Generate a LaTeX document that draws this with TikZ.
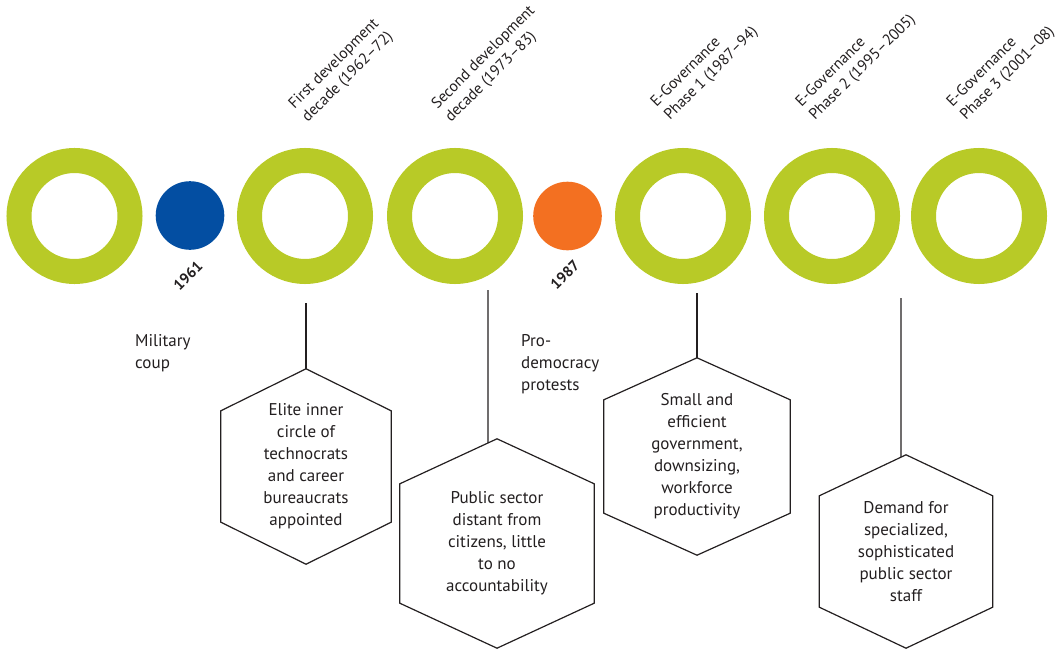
\documentclass[tikz,border=0pt]{standalone}
\usepackage{fontspec}
\setmainfont{PT Sans}
\usetikzlibrary{calc}
\definecolor{ringgreen}{HTML}{B8CA27}
\definecolor{dotblue}{HTML}{034EA2}
\definecolor{dotorange}{HTML}{F37021}
\definecolor{ink}{HTML}{231F20}
\tikzset{
  ring/.style={circle, draw=ringgreen, line width=25pt, minimum size=111pt, inner sep=0pt},
  dot/.style={circle, minimum size=68.6pt, inner sep=0pt},
  hexbox/.style={inner sep=0pt, align=center, text=ink, font=\fontsize{17}{22}\selectfont},
  hexline/.style={draw=ink, line width=1.2pt, line join=miter},
  stem/.style={draw=ink, line width=1.2pt},
  phase/.style={rotate=45, anchor=north west, inner sep=0pt, align=left, text=ink, font=\fontsize{15.5}{19}\selectfont},
  yearlbl/.style={rotate=45, inner sep=0pt, text=ink, font=\fontsize{15}{18}\selectfont\bfseries},
  eventlbl/.style={anchor=north west, inner sep=0pt, align=left, text=ink, font=\fontsize{17}{22}\selectfont}
}
\newcommand\hexoutline[2]{%
  \draw[hexline] (#1.north) -- ([yshift=-#2pt]#1.north east) -- ([yshift=#2pt]#1.south east) -- (#1.south) -- ([yshift=#2pt]#1.south west) -- ([yshift=-#2pt]#1.north west) -- cycle;}
\begin{document}
\begin{tikzpicture}[x=1pt,y=-1pt]
\useasboundingbox (0,0) rectangle (1063,650);
% rings and dots
\node[ring] (r1) at (74.5,216) {};
\node[dot, fill=dotblue] (d1) at (190,215.5) {};
\node[ring] (r2) at (305,216) {};
\node[ring] (r3) at (455,216) {};
\node[dot, fill=dotorange] (d2) at (567.5,216) {};
\node[ring] (r4) at (683,216) {};
\node[ring] (r5) at (832,216) {};
\node[ring] (r6) at (979,216) {};
% phase labels
\node[phase] (p1) at (286.5,101.5) {First development\\decade (1962--72)};
\node[phase] (p2) at (429.5,101.5) {Second development\\decade (1973--83)};
\node[phase] (p3) at (648.5,99.5) {E-Governance\\Phase 1 (1987--94)};
\node[phase] (p4) at (793.5,99.5) {E-Governance\\Phase 2 (1995--2005)};
\node[phase] (p5) at (944.5,99.5) {E-Governance\\Phase 3 (2001--08)};
% years
\node[yearlbl] (y1) at (188,276) {1961};
\node[yearlbl] (y2) at (565,275) {1987};
% events
\node[eventlbl] (e1) at (135,334) {Military\\coup};
\node[eventlbl] (e2) at (521,334) {Pro-\\democracy\\protests};
% hexagons
\node[hexbox, minimum width=170pt, minimum height=195pt] (h1) at (306,466.5) {Elite inner\\circle of\\technocrats\\and career\\bureaucrats\\appointed};
\hexoutline{h1}{42}
\node[hexbox, minimum width=194pt, minimum height=209pt] (h2) at (497,543.5) {Public sector\\distant from\\citizens, little\\to no\\accountability};
\hexoutline{h2}{45}
\node[hexbox, minimum width=186pt, minimum height=197pt] (h3) at (697,456.5) {Small and\\efficient\\government,\\downsizing,\\workforce\\productivity};
\hexoutline{h3}{42}
\node[hexbox, minimum width=173pt, minimum height=193pt] (h4) at (906,551.5) {Demand for\\specialized,\\sophisticated\\public sector\\staff};
\hexoutline{h4}{41}
% stems
\coordinate (s1) at (306,303);
\coordinate (s2) at (488,290);
\coordinate (s3) at (697,293);
\coordinate (s4) at (901,298);
\coordinate (s2end) at ($(h2.north)!0.093!([yshift=-45pt]h2.north west)$);
\coordinate (s4end) at ($(h4.north)!0.057!([yshift=-41pt]h4.north west)$);
\draw[stem] (s1) -- (h1.north);
\draw[stem] (s2) -- (s2end);
\draw[stem] (s3) -- (h3.north);
\draw[stem] (s4) -- (s4end);
\end{tikzpicture}
\end{document}
